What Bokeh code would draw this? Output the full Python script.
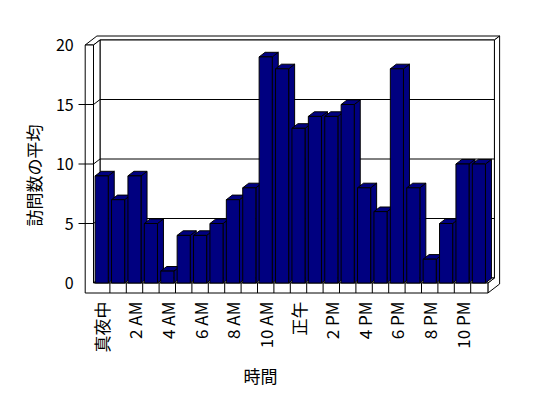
import math
from bokeh.plotting import figure
from bokeh.models import Range1d
from bokeh.core.properties import value
from bokeh.embed import file_html
from bokeh.resources import INLINE

# ---------------- data ----------------
hour_labels = ["真夜中", "1 AM", "2 AM", "3 AM", "4 AM", "5 AM", "6 AM", "7 AM",
               "8 AM", "9 AM", "10 AM", "11 AM", "正午", "1 PM", "2 PM", "3 PM",
               "4 PM", "5 PM", "6 PM", "7 PM", "8 PM", "9 PM", "10 PM", "11 PM"]
visits = [9, 7, 9, 5, 1, 4, 4, 5, 7, 8, 19, 18, 13, 14, 14, 15, 8, 6, 18, 8, 2, 5, 10, 10]
y_ticks = [0, 5, 10, 15, 20]
label_every = 2
x_title = "時間"
y_title = "訪問数の平均"

# ---------------- layout ----------------
W, H = 548, 398
CAT_PX = 16.4      # pixels per category
VAL_PX = 11.9      # pixels per value unit
ORIGIN_X = 93.0    # pixel x of category 0 left edge (front plane)
ORIGIN_Y = 282.5   # pixel y of value 0 (front plane)
DX = 6.5 / CAT_PX  # full depth offset, in category units
DY = 5.0 / VAL_PX  # full depth offset, in value units
WALL = 8.3 / CAT_PX
FLOOR = 10.0 / VAL_PX
BACK = 0.8
BAR_W = 0.8
BAR_D = 0.92
TICK = 6.7 / CAT_PX
FONT = value("Noto Sans CJK JP")
BAR_COLOR = "#000080"

n = len(visits)
ymax = max(y_ticks)
XR = n + 0.05


def px_x(px):
    return (px - ORIGIN_X) / CAT_PX


def px_y(py):
    return (ORIGIN_Y - py) / VAL_PX


def P(x, y, z):
    return (x + z * DX, y + z * DY)


def poly(pts):
    q = [P(*p) for p in pts]
    return [a for a, _ in q], [b for _, b in q]


p = figure(width=W, height=H, output_backend="svg", toolbar_location=None,
           x_range=Range1d(px_x(0), px_x(W)), y_range=Range1d(px_y(H), px_y(0)),
           min_border=0)
p.axis.visible = False
p.grid.visible = False
p.outline_line_color = None
p.background_fill_color = "white"
p.border_fill_color = "white"

# ---------------- walls & floor ----------------
walls = [
    [(-WALL, ymax, 0), (0, ymax, 0), (0, ymax, 1), (XR, ymax, 1), (XR, ymax, 1 + BACK), (-WALL, ymax, 1 + BACK)],
    [(XR, -FLOOR, 0), (XR, 0, 0), (XR, 0, 1), (XR, ymax, 1), (XR, ymax, 1 + BACK), (XR, -FLOOR, 1 + BACK)],
    [(0, 0, 1), (XR, 0, 1), (XR, ymax, 1), (0, ymax, 1)],
    [(0, 0, 0), (0, ymax, 0), (0, ymax, 1), (0, 0, 1)],
    [(0, 0, 0), (XR, 0, 0), (XR, 0, 1), (0, 0, 1)],
    [(-WALL, -FLOOR, 0), (XR, -FLOOR, 0), (XR, 0, 0), (0, 0, 0), (0, ymax, 0), (-WALL, ymax, 0)],
]
wx, wy = zip(*[poly(w) for w in walls])
p.patches(list(wx), list(wy), fill_color="white", line_color="black", line_width=1)

# gridlines + ticks
gx, gy = [], []
for v in y_ticks:
    if 0 < v < ymax:
        for seg in ([(0, v, 1), (XR, v, 1)], [(0, v, 0), (0, v, 1)], [(-WALL - TICK, v, 0), (0, v, 0)]):
            a, b = poly(seg)
            gx.append(a)
            gy.append(b)
# floor cell dividers
for k in range(1, n):
    a, b = poly([(k, -FLOOR, 0), (k, 0, 0)])
    gx.append(a)
    gy.append(b)
p.multi_line(gx, gy, line_color="black", line_width=1)

# ---------------- bars ----------------
bx, by = [], []
for i, v in enumerate(visits):
    x0 = i + (1 - BAR_W) / 2
    x1 = x0 + BAR_W
    for face in ([(x1, 0, 0), (x1, 0, BAR_D), (x1, v, BAR_D), (x1, v, 0)],
                 [(x0, v, 0), (x1, v, 0), (x1, v, BAR_D), (x0, v, BAR_D)],
                 [(x0, 0, 0), (x1, 0, 0), (x1, v, 0), (x0, v, 0)]):
        a, b = poly(face)
        bx.append(a)
        by.append(b)
p.patches(bx, by, fill_color=BAR_COLOR, line_color="black", line_width=1)

# ---------------- texts ----------------
lx = [i + 0.5 for i in range(0, n, label_every)]
lt = [hour_labels[i] for i in range(0, n, label_every)]
p.text(x=lx, y=[px_y(301)] * len(lx), text=lt, angle=math.pi / 2,
       text_align="right", text_baseline="middle", text_font=FONT,
       text_font_size="17px", text_color="black")

p.text(x=[-WALL - px_x(ORIGIN_X + 11.5)] * len(y_ticks), y=y_ticks,
       text=[str(t) for t in y_ticks], text_align="right", text_baseline="middle",
       text_font=FONT, text_font_size="16px", text_color="black")

p.text(x=[px_x(260)], y=[px_y(375)], text=[x_title], text_align="center",
       text_baseline="middle", text_font=FONT, text_font_size="17px", text_color="black")
p.text(x=[px_x(33)], y=[px_y(175)], text=[y_title], angle=math.pi / 2, text_align="center",
       text_baseline="middle", text_font=FONT, text_font_size="17px", text_color="black")

open("out.html", "w").write(file_html(p, INLINE))
